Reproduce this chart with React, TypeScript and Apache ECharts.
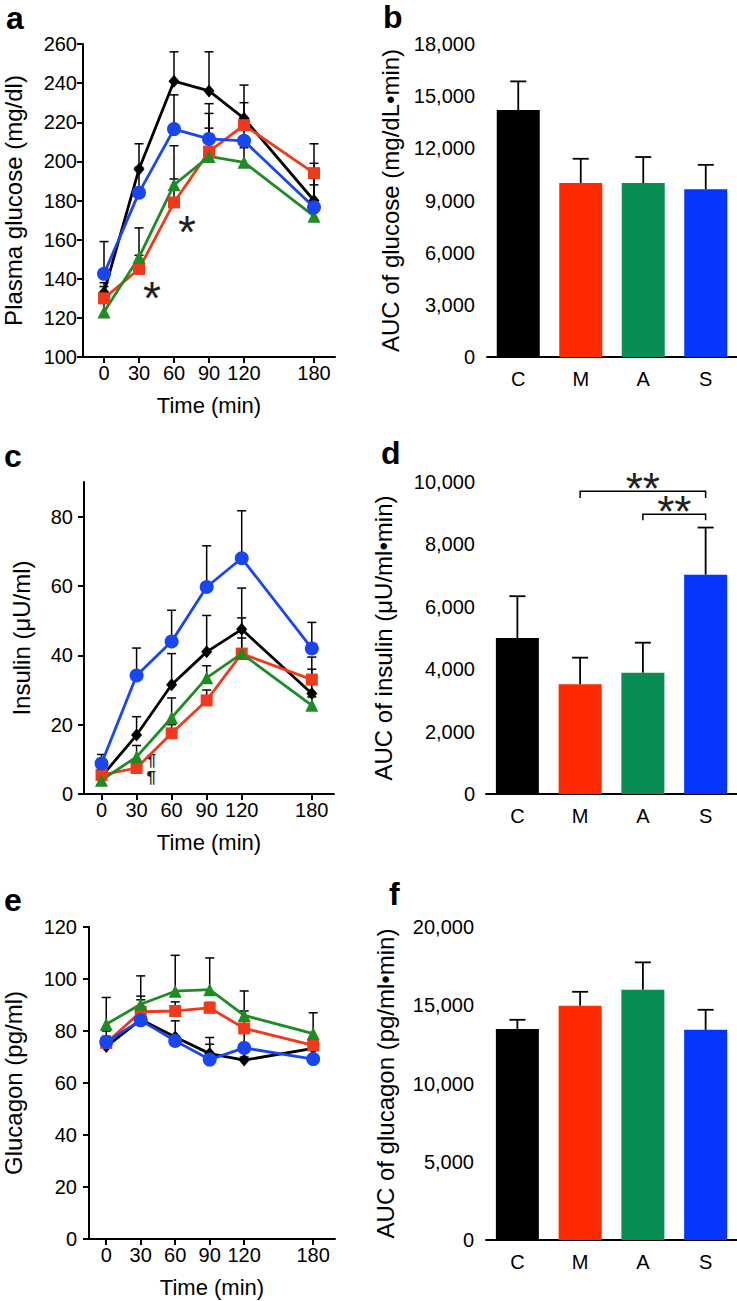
import React, { useEffect, useRef } from "react";
import * as echarts from "echarts";

const FONT = "'Liberation Sans', Arial, Helvetica, sans-serif";

const times = [0, 30, 60, 90, 120, 180];
const groups = ["C", "M", "A", "S"];
const lineColors = ["#000000", "#f2391c", "#1e8b24", "#1746f2"];
const barColors = ["#000000", "#ff2a00", "#088d52", "#0536ff"];
const symbols = ["diamond", "rect", "triangle", "circle"];
const symbolSizes: any[] = [[11, 13], 12, 13, 14];

// Panel a: plasma glucose (mg/dl)
const glucoseC = [133, 196, 241, 236, 222, 180];
const glucoseM = [130, 145, 179, 205, 218.5, 194];
const glucoseA = [123, 151, 188, 202.5, 199.5, 172];
const glucoseS = [142.5, 184, 216.5, 211.5, 210.5, 176.5];
const glucoseCErr = [138, 209, 256, 256, 239, 199];
const glucoseMErr = [136, 152, 191, 224.5, 230, 209];
const glucoseAErr = [128, 166, 208, 217, 207, 188];
const glucoseSErr = [159, 197, 234, 229.5, 217, 195];

// Panel b: AUC glucose
const aucGlucose = [14200, 10000, 10000, 9650];
const aucGlucoseErr = [15850, 11400, 11500, 11050];

// Panel c: insulin (µU/ml)
const insulinC = [5, 17, 31.5, 41, 47.5, 29];
const insulinM = [5.5, 7.5, 17.5, 27, 40.5, 33];
const insulinA = [4, 10.7, 22, 33.5, 40.5, 25.6];
const insulinS = [8.8, 34.2, 44, 59.7, 68, 42];
const insulinCErr = [7, 22.3, 40.5, 51.5, 59.4, 36];
const insulinMErr = [7, 9, 20, 30, 50.8, 39.5];
const insulinAErr = [5.5, 14, 27.7, 37, 45, 28];
const insulinSErr = [11.4, 42.1, 53, 71.6, 81.7, 49.5];

// Panel d: AUC insulin
const aucInsulin = [5000, 3520, 3890, 7030];
const aucInsulinErr = [6340, 4370, 4850, 8540];

// Panel e: glucagon (pg/ml)
const glucagonC = [74, 84.4, 77.7, 71.3, 68.8, 73.3];
const glucagonM = [75.4, 87.4, 87.7, 88.9, 81, 74.5];
const glucagonA = [82.6, 90.3, 95.3, 95.9, 86, 79];
const glucagonS = [75.8, 84.1, 76.2, 69, 73.5, 69.2];
const glucagonCErr = [76, 92, 83.9, 74.9, 70, 75];
const glucagonMErr = [80, 93.4, 91.2, 91, 87.7, 76.5];
const glucagonAErr = [92.9, 101.2, 109.1, 108.1, 95.4, 87];
const glucagonSErr = [78, 86, 78, 77.5, 81.3, 70];

// Panel f: AUC glucagon
const aucGlucagon = [13480, 14970, 15990, 13430];
const aucGlucagonErr = [14070, 15860, 17740, 14710];

const fmt = (v: number) => v.toLocaleString("en-US");

function errItem(capHalf: number, lw: number) {
  return (params: any, api: any) => {
    const p0 = api.coord([api.value(0), api.value(1)]);
    const p1 = api.coord([api.value(0), api.value(2)]);
    return {
      type: "group",
      children: [
        { type: "line", shape: { x1: p0[0], y1: p0[1], x2: p1[0], y2: p1[1] }, style: { stroke: "#000", lineWidth: lw } },
        { type: "line", shape: { x1: p1[0] - capHalf, y1: p1[1], x2: p1[0] + capHalf, y2: p1[1] }, style: { stroke: "#000", lineWidth: lw } },
      ],
    };
  };
}

const axisLineStyle = { lineStyle: { color: "#000", width: 2 }, onZero: false };
const tickStyle = { length: 6, lineStyle: { color: "#000", width: 2 } };

function lineX(idx: number, min: number, max: number) {
  return {
    type: "value",
    gridIndex: idx,
    min,
    max,
    axisLine: axisLineStyle,
    axisTick: { ...tickStyle, customValues: times },
    axisLabel: { customValues: times, color: "#000", fontSize: 20, fontFamily: FONT, margin: 6 },
    splitLine: { show: false },
    name: "Time (min)",
    nameLocation: "middle",
    nameGap: 37,
    nameTextStyle: { color: "#000", fontSize: 22, fontFamily: FONT, fontWeight: "normal" },
  };
}

function valueY(idx: number, min: number, max: number, interval: number, name: string, nameGap: number, labelMargin: number, opts: any = {}) {
  return {
    type: "value",
    gridIndex: idx,
    min,
    max,
    interval,
    axisLine: axisLineStyle,
    axisTick: { ...tickStyle, ...(opts.tickValues ? { customValues: opts.tickValues } : {}) },
    axisLabel: {
      color: "#000",
      fontSize: 20,
      fontFamily: FONT,
      margin: labelMargin,
      formatter: (v: number) => fmt(v),
      ...(opts.tickValues ? { customValues: opts.tickValues } : {}),
    },
    splitLine: { show: false },
    name,
    nameLocation: "middle",
    nameGap,
    nameTextStyle: { color: "#000", fontSize: 24, fontFamily: FONT, fontWeight: "normal" },
  };
}

function catX(idx: number) {
  return {
    type: "category",
    gridIndex: idx,
    data: groups,
    axisLine: axisLineStyle,
    axisTick: { show: false },
    axisLabel: { color: "#000", fontSize: 20, fontFamily: FONT, margin: 12 },
  };
}

function lineSeries(idx: number, data: number[][], errs: number[][]) {
  const out: any[] = [];
  data.forEach((d, g) => {
    out.push({
      type: "custom",
      xAxisIndex: idx,
      yAxisIndex: idx,
      z: 1,
      renderItem: errItem(4.5, 1.5),
      data: times.map((t, i) => [t, d[i], errs[g][i]]),
    });
  });
  data.forEach((d, g) => {
    out.push({
      type: "line",
      name: groups[g],
      xAxisIndex: idx,
      yAxisIndex: idx,
      z: 2,
      data: times.map((t, i) => [t, d[i]]),
      symbol: symbols[g],
      symbolSize: symbolSizes[g],
      showAllSymbol: true,
      lineStyle: { color: lineColors[g], width: 2.8 },
      itemStyle: { color: lineColors[g], borderWidth: 0 },
    });
  });
  return out;
}

function barSeries(idx: number, vals: number[], errs: number[]) {
  return [
    {
      type: "bar",
      xAxisIndex: idx,
      yAxisIndex: idx,
      barWidth: 43,
      z: 2,
      data: vals.map((v, i) => ({ value: v, itemStyle: { color: barColors[i] } })),
    },
    {
      type: "custom",
      xAxisIndex: idx,
      yAxisIndex: idx,
      z: 3,
      renderItem: errItem(8, 1.8),
      data: vals.map((v, i) => [i, v, errs[i]]),
    },
  ];
}

export default function App() {
  const ref = useRef<HTMLDivElement>(null);
  useEffect(() => {
    document.body.style.margin = "0";
    const chart = echarts.init(ref.current!, undefined, { renderer: "svg" });
    const option: any = {
      animation: false,
      backgroundColor: "#ffffff",
      textStyle: { fontFamily: FONT },
      grid: [
        { left: 82, top: 44, width: 253, height: 313 },
        { left: 487, top: 44, width: 250, height: 313 },
        { left: 84, top: 482, width: 250, height: 312 },
        { left: 486, top: 482, width: 251, height: 312 },
        { left: 86, top: 927, width: 249, height: 312 },
        { left: 486, top: 927, width: 251, height: 313 },
      ],
      xAxis: [
        lineX(0, -18, 198),
        catX(1),
        lineX(2, -15, 199),
        catX(3),
        lineX(4, -15, 199),
        catX(5),
      ],
      yAxis: [
        valueY(0, 100, 260, 20, "Plasma glucose (mg/dl)", 58, 6),
        valueY(1, 0, 18000, 3000, "AUC of glucose (mg/dL•min)", 85, 12),
        valueY(2, 0, 90, 20, "Insulin (μU/ml)", 51, 11, { tickValues: [0, 20, 40, 60, 80] }),
        valueY(3, 0, 10000, 2000, "AUC of insulin (μU/ml•min)", 91, 11),
        valueY(4, 0, 120, 20, "Glucagon (pg/ml)", 64, 12),
        valueY(5, 0, 20000, 5000, "AUC of glucagon (pg/ml•min)", 89, 12),
      ],
      series: [
        ...lineSeries(0, [glucoseC, glucoseM, glucoseA, glucoseS], [glucoseCErr, glucoseMErr, glucoseAErr, glucoseSErr]),
        ...barSeries(1, aucGlucose, aucGlucoseErr),
        ...lineSeries(2, [insulinC, insulinM, insulinA, insulinS], [insulinCErr, insulinMErr, insulinAErr, insulinSErr]),
        ...barSeries(3, aucInsulin, aucInsulinErr),
        ...lineSeries(4, [glucagonC, glucagonM, glucagonA, glucagonS], [glucagonCErr, glucagonMErr, glucagonAErr, glucagonSErr]),
        ...barSeries(5, aucGlucagon, aucGlucagonErr),
      ],
    };
    chart.setOption(option);

    const px = (i: number, p: any[]) => chart.convertToPixel({ xAxisIndex: i, yAxisIndex: i }, p) as number[];
    const graphic: any[] = [];
    const letter = (t: string, x: number, y: number) =>
      graphic.push({ type: "text", x, y, style: { text: t, font: `bold 32px ${FONT}`, fill: "#000", textAlign: "left", textVerticalAlign: "top" } });
    letter("a", 6, 2);
    letter("b", 383, 1);
    letter("c", 4, 440);
    letter("d", 381, 437);
    letter("e", 4, 884);
    letter("f", 389, 878);

    const note = (i: number, p: number[], font: string, text: string, lineHeight?: number) => {
      const q = px(i, p);
      graphic.push({
        type: "text",
        x: q[0],
        y: q[1],
        style: { text, font, fill: "#231f20", textAlign: "center", textVerticalAlign: "middle", ...(lineHeight ? { lineHeight } : {}) },
      });
    };
    note(0, [41, 130], `46px ${FONT}`, "*");
    note(0, [71, 164], `46px ${FONT}`, "*");
    note(2, [42.6, 7.2], `bold 17px ${FONT}`, "¶\n¶", 17);

    const bracket = (i: number, a: number, b: number, yTop: number, yEnd: number, starY: number) => {
      const p1 = px(i, [a, yEnd]);
      const p2 = px(i, [a, yTop]);
      const p3 = px(i, [b, yTop]);
      const p4 = px(i, [b, yEnd]);
      graphic.push({
        type: "polyline",
        shape: { points: [p1, p2, p3, p4] },
        style: { stroke: "#000", lineWidth: 1.5, fill: null },
      });
      const sp = px(i, [a, starY]);
      graphic.push({
        type: "text",
        x: (p2[0] + p3[0]) / 2,
        y: sp[1],
        style: { text: "**", font: `44px ${FONT}`, fill: "#231f20", textAlign: "center", textVerticalAlign: "middle" },
      });
    };
    bracket(3, 1, 3, 9700, 9485, 9790);
    bracket(3, 2, 3, 8964, 8772, 9040);

    chart.setOption({ graphic });
    return () => chart.dispose();
  }, []);
  return <div ref={ref} style={{ width: 737, height: 1301 }} />;
}
